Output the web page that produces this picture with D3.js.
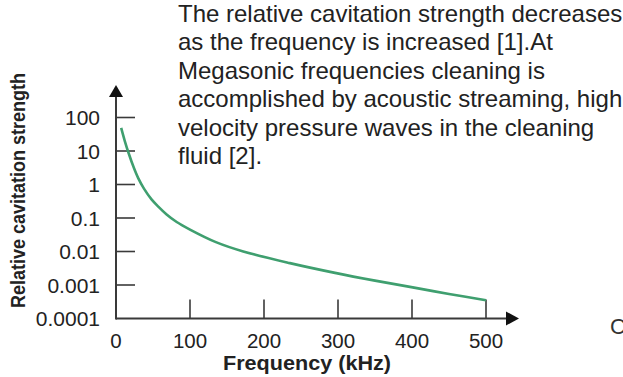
<!DOCTYPE html>
<html>
<head>
<meta charset="utf-8">
<script src="https://cdn.jsdelivr.net/npm/d3@7"></script>
<style>
  html, body { margin: 0; padding: 0; background: #fff; }
  svg { display: block; font-family: "Liberation Sans", Arial, sans-serif; }
</style>
</head>
<body>
<svg id="chart" width="623" height="377"></svg>
<script>
// values
const freqKHz = [7, 12, 17, 24, 30, 38, 48, 58, 68, 82, 100, 135, 172, 235, 296, 350, 401, 450, 500];
const strength = [49, 19.5, 8.7, 3.2, 1.55, 0.74, 0.36, 0.21, 0.13, 0.076, 0.045, 0.019, 0.01, 0.0045, 0.0023, 0.00135, 0.00085, 0.00054, 0.00035];
const xTicks = [0, 100, 200, 300, 400, 500];
const yTicks = [0.0001, 0.001, 0.01, 0.1, 1, 10, 100];
const yTickLabels = ["0.0001", "0.001", "0.01", "0.1", "1", "10", "100"];
const noteLines = [
  "The relative cavitation strength decreases",
  "as the frequency is increased [1].At",
  "Megasonic frequencies cleaning is",
  "accomplished by acoustic streaming, high",
  "velocity pressure waves in the cleaning",
  "fluid [2]."
];

const svg = d3.select("#chart");
const axisColor = "#3a3a3a";
const textColor = "#222";

const x = d3.scaleLinear().domain([0, 500]).range([116, 486]);
const y = d3.scaleLog().domain([0.0001, 100]).range([318.5, 117.5]);

// note text
const note = svg.append("text")
  .attr("fill", textColor)
  .attr("font-size", 24);
noteLines.forEach((t, i) => {
  note.append("tspan").attr("x", 178).attr("y", 22 + i * 28.4).text(t);
});

// axes lines
svg.append("line")
  .attr("x1", x(0)).attr("x2", 508)
  .attr("y1", y(0.0001)).attr("y2", y(0.0001))
  .attr("stroke", axisColor).attr("stroke-width", 2);
svg.append("line")
  .attr("x1", x(0)).attr("x2", x(0))
  .attr("y1", y(0.0001) + 1).attr("y2", 96)
  .attr("stroke", axisColor).attr("stroke-width", 2);

// arrow heads
svg.append("path")
  .attr("d", `M${x(0)},85 L${x(0) - 7},97 L${x(0) + 7},97 Z`)
  .attr("fill", "#111");
svg.append("path")
  .attr("d", `M519,${y(0.0001)} L506,${y(0.0001) - 7} L506,${y(0.0001) + 7} Z`)
  .attr("fill", "#111");

// y ticks
svg.selectAll(".ytick")
  .data(yTicks.filter(d => d > 0.0001))
  .join("line")
  .attr("x1", x(0)).attr("x2", x(0) + 19)
  .attr("y1", d => y(d)).attr("y2", d => y(d))
  .attr("stroke", axisColor).attr("stroke-width", 1.6);

svg.selectAll(".ylab")
  .data(yTicks)
  .join("text")
  .attr("x", 100)
  .attr("y", d => y(d))
  .attr("dy", "0.36em")
  .attr("text-anchor", "end")
  .attr("font-size", 21)
  .attr("fill", textColor)
  .text((d, i) => yTickLabels[i]);

// x ticks
svg.selectAll(".xtick")
  .data(xTicks)
  .join("line")
  .attr("x1", d => x(d)).attr("x2", d => x(d))
  .attr("y1", y(0.0001)).attr("y2", y(0.0001) - 19)
  .attr("stroke", axisColor).attr("stroke-width", 1.6);

svg.selectAll(".xlab")
  .data(xTicks)
  .join("text")
  .attr("x", d => x(d))
  .attr("y", 348)
  .attr("text-anchor", "middle")
  .attr("font-size", 20.5)
  .attr("fill", textColor)
  .text(d => d);

// axis titles
svg.append("text")
  .attr("x", 307).attr("y", 369.5)
  .attr("text-anchor", "middle")
  .attr("font-size", 21)
  .attr("font-weight", "bold")
  .attr("fill", textColor)
  .attr("textLength", 168)
  .attr("lengthAdjust", "spacingAndGlyphs")
  .text("Frequency (kHz)");

svg.append("text")
  .attr("transform", "translate(25,190.5) rotate(-90)")
  .attr("text-anchor", "middle")
  .attr("font-size", 20)
  .attr("font-weight", "bold")
  .attr("fill", textColor)
  .attr("textLength", 235)
  .attr("lengthAdjust", "spacingAndGlyphs")
  .text("Relative cavitation strength");

// cut-off letter at right edge
svg.append("text")
  .attr("x", 610).attr("y", 334)
  .attr("font-size", 22)
  .attr("fill", "#333")
  .text("C");

// curve
const pts = freqKHz.map((f, i) => [f, strength[i]]);
svg.append("path")
  .datum(pts)
  .attr("fill", "none")
  .attr("stroke", "#3f9f6f")
  .attr("stroke-width", 2.6)
  .attr("d", d3.line()
    .x(d => x(d[0]))
    .y(d => y(d[1]))
    .curve(d3.curveCatmullRom));
</script>
</body>
</html>
